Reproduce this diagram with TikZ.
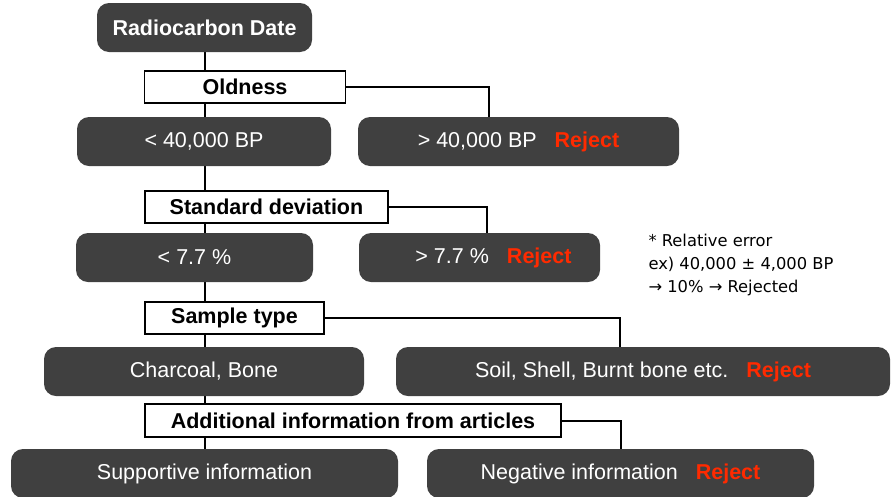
\documentclass[tikz,border=0pt]{standalone}
\usepackage{fontspec}
\setmainfont{Liberation Sans}
\newfontfamily\notefont{DejaVu Sans}
\usetikzlibrary{backgrounds}
\definecolor{darkgrey}{HTML}{404040}
\definecolor{rejectred}{HTML}{FF2A00}
\newcommand{\REJECT}{\hspace{18pt}\textcolor{rejectred}{\bfseries Reject}}
\tikzset{
  darkbox/.style={fill=darkgrey, rounded corners=12pt, text=white, inner sep=0pt,
    minimum height=49pt, font=\fontsize{21.5}{25}\selectfont},
  whitebox/.style={draw=black, line width=1.3pt, fill=white, inner sep=0pt,
    minimum height=32pt, font=\fontsize{21.5}{25}\selectfont\bfseries},
  link/.style={draw=black, line width=2pt}
}

\begin{document}
\begin{tikzpicture}[x=1pt, y=-1pt]
\useasboundingbox (0,0) rectangle (891,496);

% first step
\node[darkbox, minimum width=215pt, font=\fontsize{21.5}{25}\selectfont\bfseries]
  (date) at (204.5, 27.5) {Radiocarbon Date};
\node[whitebox, minimum width=201pt] (old) at (245, 87) {Oldness};
\node[darkbox, minimum width=254pt] (young40) at (204, 141.5) {< 40,000 BP};
\node[darkbox, minimum width=321pt] (old40) at (518.5, 141.5) {> 40,000 BP\REJECT};

% second step
\node[whitebox, minimum width=243pt] (sd) at (266.5, 207) {Standard deviation};
\node[darkbox, minimum width=237pt] (lowsd) at (194.5, 257.5) {< 7.7 \%};
\node[darkbox, minimum width=241pt] (highsd) at (479.5, 257.5)
  {\hspace*{28pt}> 7.7 \%\REJECT};
\node[anchor=west, align=left, font=\notefont\fontsize{16.3}{23}\selectfont]
  (note) at (645, 265) {* Relative error\\ex) 40,000 ± 4,000 BP\\→ 10\% → Rejected};

% third step
\node[whitebox, minimum width=179pt] (type) at (234.5, 318) {Sample type};
\node[darkbox, minimum width=320pt] (okmat) at (204, 371.5) {Charcoal, Bone};
\node[darkbox, minimum width=494pt] (badmat) at (643, 371.5)
  {Soil, Shell, Burnt bone etc.\REJECT};

% last step
\node[whitebox, minimum width=416pt, minimum height=33pt]
  (info) at (353, 420.5) {Additional information from articles};
\node[darkbox, minimum width=387pt] (support) at (204.5, 473.5) {Supportive information};
\node[darkbox, minimum width=387pt] (negative) at (620.5, 473.5)
  {Negative information\REJECT};

\begin{scope}[on background layer]
\draw[link] (date) -- (date |- support.north);
\draw[link] (old.east) -| ([xshift=-30pt]old40.north);
\draw[link] (sd.east) -| ([xshift=7pt]highsd.north);
\draw[link] (type.east) -| ([xshift=-23pt]badmat.north);
\draw[link] (info.east) -| (negative.north);
\end{scope}
\end{tikzpicture}
\end{document}
